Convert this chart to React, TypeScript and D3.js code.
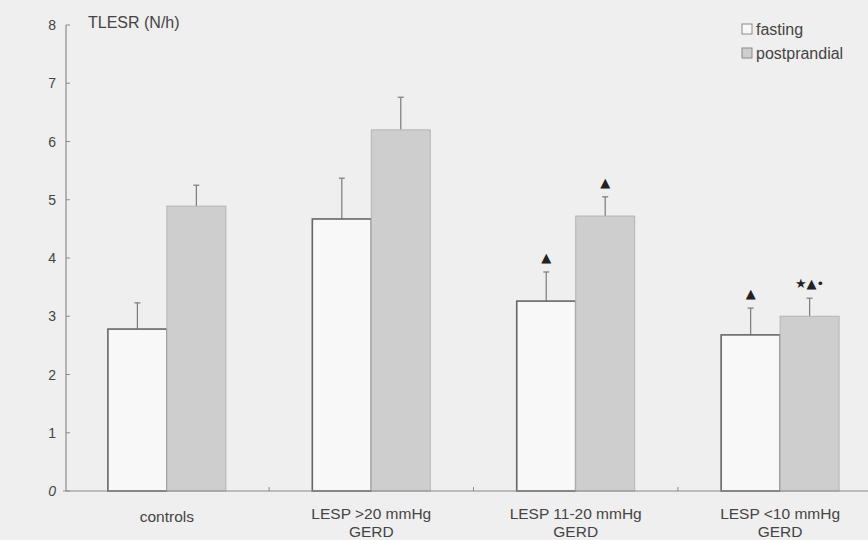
import React from "react";
import * as d3 from "d3";

const categories = ["controls", "LESP >20 mmHg|GERD", "LESP 11-20 mmHg|GERD", "LESP <10 mmHg|GERD"];
const series = ["fasting", "postprandial"];
const fastingValues = [2.78, 4.67, 3.26, 2.68];
const fastingErrors = [0.45, 0.7, 0.5, 0.46];
const postprandialValues = [4.89, 6.2, 4.72, 3.0];
const postprandialErrors = [0.36, 0.56, 0.33, 0.31];
const fastingMarks = ["", "", "▲", "▲"];
const postprandialMarks = ["", "", "▲", "★▲•"];
const yTicks = [0, 1, 2, 3, 4, 5, 6, 7, 8];
const yTitle = "TLESR (N/h)";

const W = 868;
const H = 540;
const FONT = "'Liberation Sans', Arial, sans-serif";

export default function App() {
  const y = d3.scaleLinear().domain([0, 8]).range([491, 25]);
  const x = d3.scaleBand<string>().domain(categories).range([66, 881]).paddingInner(0.423).paddingOuter(0.205);
  const xs = d3.scaleBand<string>().domain(series).range([0, x.bandwidth()]);
  const fills: Record<string, string> = { fasting: "#f8f8f8", postprandial: "#cecece" };
  const strokes: Record<string, string> = { fasting: "#666666", postprandial: "#b4b4b4" };
  const data = series.map((s) => ({
    s,
    vals: s === "fasting" ? fastingValues : postprandialValues,
    errs: s === "fasting" ? fastingErrors : postprandialErrors,
    marks: s === "fasting" ? fastingMarks : postprandialMarks,
  }));

  return (
    <div style={{ position: "fixed", left: 0, top: 0, width: W, height: H }}>
      <svg width={W} height={H} style={{ display: "block", background: "#efefef" }}>
        <rect x={0} y={0} width={W} height={H} fill="#efefef" />
        {/* bars */}
        {data.map((d) =>
          categories.map((c, i) => {
            const bx = (x(c) as number) + (xs(d.s) as number);
            const bw = xs.bandwidth();
            const top = y(d.vals[i]);
            const etop = y(d.vals[i] + d.errs[i]);
            const cx = bx + bw / 2;
            return (
              <g key={d.s + c}>
                <line x1={cx} x2={cx} y1={top} y2={etop} stroke="#7a7a7a" strokeWidth={1.2} />
                <line x1={cx - 3} x2={cx + 3} y1={etop} y2={etop} stroke="#7a7a7a" strokeWidth={1.2} />
                <rect x={bx} y={top} width={bw} height={y(0) - top} fill={fills[d.s]} stroke={strokes[d.s]} strokeWidth={d.s === "fasting" ? 1.6 : 1} />
                {d.marks[i] && (
                  <text x={cx} y={etop - 10} textAnchor="middle" fontFamily="'DejaVu Sans', sans-serif" fontSize={13} fill="#222">
                    {d.marks[i]}
                  </text>
                )}
              </g>
            );
          })
        )}
        {/* axes */}
        <line x1={66} x2={66} y1={y(8)} y2={y(0)} stroke="#8a8a8a" strokeWidth={1.2} />
        <line x1={63} x2={W} y1={y(0)} y2={y(0)} stroke="#8a8a8a" strokeWidth={1.2} />
        {yTicks.map((t) => (
          <g key={t}>
            <line x1={66} x2={70} y1={y(t)} y2={y(t)} stroke="#8a8a8a" />
            <text x={56} y={y(t)} dy="0.36em" textAnchor="end" fontFamily={FONT} fontSize={14} fill="#444" fontStyle={t === 0 ? "italic" : "normal"}>
              {t}
            </text>
          </g>
        ))}
        {categories.slice(1).map((c) => {
          const tx = (x(c) as number) - (x.step() - x.bandwidth()) / 2;
          return <line key={c} x1={tx} x2={tx} y1={y(0)} y2={y(0) - 4} stroke="#8a8a8a" />;
        })}
        <text x={88} y={28} fontFamily={FONT} fontSize={16} fill="#444">{yTitle}</text>
        {/* x labels */}
        {categories.map((c) => {
          const lines = c.split("|");
          const cx = (x(c) as number) + x.bandwidth() / 2;
          return (
            <text key={c} x={cx} textAnchor="middle" fontFamily={FONT} fontSize={15.5} fill="#444">
              {lines.map((l, k) => (
                <tspan key={k} x={cx} y={lines.length === 1 ? 522 : 519 + k * 18}>{l}</tspan>
              ))}
            </text>
          );
        })}
        {/* legend */}
        {series.map((s, k) => (
          <g key={s} transform={`translate(742, ${24 + k * 24})`}>
            <rect x={0} y={0} width={10} height={10} fill={fills[s]} stroke="#8a8a8a" strokeWidth={1} />
            <text x={14} y={11} fontFamily={FONT} fontSize={16} fill="#444">{s}</text>
          </g>
        ))}
      </svg>
    </div>
  );
}
